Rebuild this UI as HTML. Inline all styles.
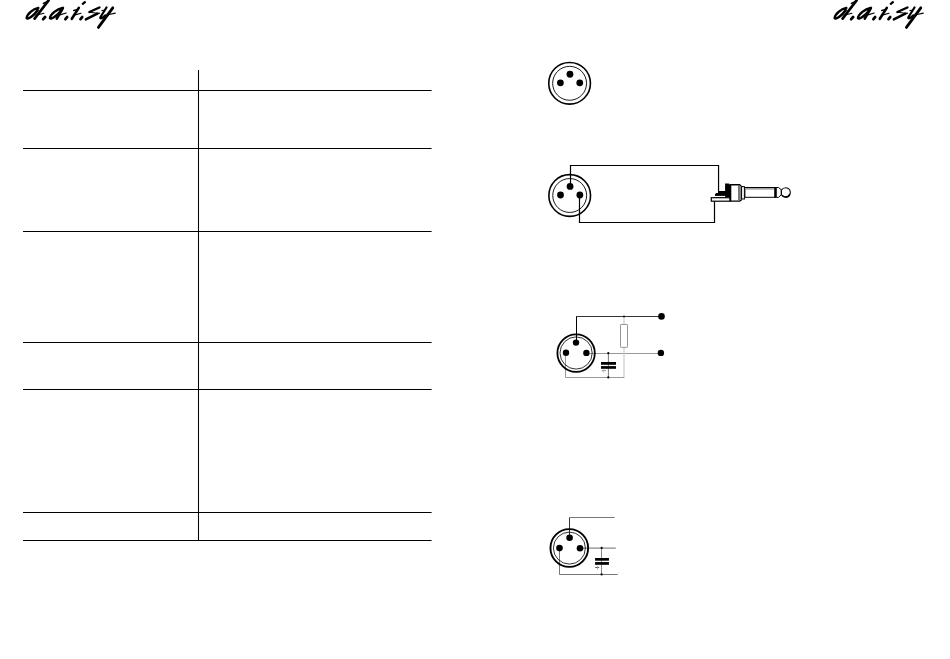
<!DOCTYPE html>
<html><head><meta charset="utf-8">
<style>
html,body{margin:0;padding:0;background:#fff;width:950px;height:659px;overflow:hidden;font-family:"Liberation Sans",sans-serif;}
svg{position:absolute;left:0;top:0;display:block}
</style></head><body>
<svg width="950" height="659" viewBox="0 0 950 659">
<defs>
<g id="logo" fill="none" stroke="#000" stroke-linecap="round" stroke-linejoin="round">
  <!-- d -->
  <path d="M38.3 7.9 C33 9 27 14 26.7 18.1 C28 20 34 15.5 37.8 10" stroke-width="2.5"/>
  <path d="M34.6 18.6 L48.6 0.4" stroke-width="2.6"/>
  <path d="M43.4 3.4 L46.5 2" stroke-width="1.5"/>
  <path d="M36 15.2 L44 13.2" stroke-width="1.1"/>
  <path d="M43.2 19.2 L45.1 17" stroke-width="2.8"/>
  <!-- a -->
  <path d="M62.6 7.9 C57 9 50.5 14 50 18.1 C51.2 20 57.5 15.5 61.6 10" stroke-width="2.5"/>
  <path d="M62.9 8 L56.8 18.6" stroke-width="2.6"/>
  <path d="M58.2 15.4 L66.2 13" stroke-width="1.1"/>
  <path d="M65.4 19.2 L67.1 17.1" stroke-width="2.8"/>
  <!-- i -->
  <path d="M71.8 18.8 L78.8 7.9" stroke-width="2.6"/>
  <path d="M73.8 10.4 L76.8 9.8" stroke-width="1.5"/>
  <path d="M73.4 15.4 L81 13.2" stroke-width="1.1"/>
  <path d="M82.8 3.8 L84.9 2.1" stroke-width="2.3"/>
  <path d="M80.5 19.1 L82.2 17.1" stroke-width="2.8"/>
  <!-- s -->
  <path d="M89.4 12 L99.4 7.5" stroke-width="2.4"/>
  <path d="M89.3 12.2 Q93.5 12.9 98 13.2" stroke-width="1.1"/>
  <path d="M97.4 13.7 L85.8 19.4" stroke-width="2.4"/>
  <path d="M97.4 13.6 L99.6 13.2" stroke-width="1.2"/>
  <!-- y -->
  <path d="M106.5 7.5 L100.5 17 Q99.5 19.2 102.4 17.8 L105.4 15.4" stroke-width="2.2"/>
  <path d="M101.9 10.6 L103.6 10.3" stroke-width="1.1"/>
  <path d="M112.8 7.8 L98.4 27.4" stroke-width="2.8"/>
  <path d="M108 14.7 L115.3 13.1" stroke-width="1.1"/>
</g>
<g id="xlr">
  <circle cx="0" cy="0" r="20.85" fill="none" stroke="#000" stroke-width="1.6"/>
  <circle cx="0" cy="0" r="16.95" fill="none" stroke="#000" stroke-width="0.9"/>
  <circle cx="0.36" cy="-9.03" r="3.4" fill="#000"/>
  <circle cx="-9.2" cy="-0.5" r="3.4" fill="#000"/>
  <circle cx="10.15" cy="-0.5" r="3.4" fill="#000"/>
</g>
</defs>
<use href="#logo"/>
<use href="#logo" x="808"/>
<!-- table -->
<g stroke="#000" stroke-width="1.2" fill="none">
  <path d="M23 90.5H431.6M23 148.5H431.6M23 231.5H431.6M23 342.5H431.6M23 389.5H431.6M23 512.5H431.6M23 540.5H431.6"/>
  <path d="M198.5 70V541" stroke-width="1.05"/>
</g>
<!-- connector 1 -->
<use href="#xlr" x="569.6" y="83.3"/>
<!-- connector 2 with jack -->
<use href="#xlr" x="569.7" y="195.5"/>
<g stroke="#000" stroke-width="1.2" fill="none">
  <path d="M570.5 186 V165.5 H718.55 V191.5"/>
  <path d="M579.5 195 V222.5 H714.5 V201"/>
</g>
<!-- jack -->
<g>
  <path d="M715 196 V194.2 L716.2 193 H718 V191 H725.1 V183.6 H729 L730.4 185.2 V197.2 H715 Z" fill="#000"/>
  <rect x="715" y="195.9" width="10.1" height="1.2" fill="#fff"/>
  <rect x="711.3" y="197.7" width="18.6" height="3.5" fill="#fff" stroke="#000" stroke-width="1.2"/>
  <path d="M730.6 184.7 H739.6 L741 186.1 V200.3 L739.6 201.1 H730.6 Z" fill="#fff" stroke="#000" stroke-width="1.4"/>
  <rect x="738.2" y="185.4" width="1.6" height="15" fill="#555"/>
  <rect x="739.8" y="186" width="1.3" height="14" fill="#888"/>
  <rect x="741.6" y="186.6" width="2.8" height="12.4" fill="#fff" stroke="#000" stroke-width="1"/>
  <rect x="744.9" y="187.5" width="31.5" height="9.8" fill="#fff" stroke="#000" stroke-width="1"/>
  <rect x="745.2" y="188.1" width="28.7" height="1.5" fill="#999"/>
  <rect x="774.2" y="187.2" width="2.6" height="10.4" fill="#000"/>
  <path d="M776.8 187.5 H778.5 L781.3 189.8 V194.6 L778.5 197.4 H776.8" fill="#fff" stroke="#000" stroke-width="1"/>
  <path d="M781.4 190 Q783 187.6 786 187.7 Q790.3 188.2 790.3 192.6 Q789.8 197 786 197.3 Q782.6 197.2 781.4 194.6 Z" fill="#fff" stroke="#000" stroke-width="1.1"/>
  <path d="M782.2 195.4 Q783.8 197 786 197 Q788.8 196.6 789.8 194" fill="none" stroke="#000" stroke-width="1.3"/>
  <path d="M783.5 188.6 Q785 188 786.5 188.2" fill="none" stroke="#aaa" stroke-width="0.8"/>
</g>
<!-- connector 3 -->
<g>
  <path d="M576.5 342 V316.5" stroke="#000" stroke-width="1" fill="none"/>
  <path d="M576 316.5 H661.6" stroke="#333" stroke-width="1" fill="none"/>
  <path d="M586.3 353.5 H661" stroke="#999" stroke-width="1" fill="none"/>
  <path d="M624 316.5 V377.5" stroke="#ccc" stroke-width="1.2" fill="none"/>
  <rect x="620.5" y="324.5" width="7" height="22.9" rx="0.6" fill="#fff" stroke="#888" stroke-width="0.9"/>
  <path d="M565.5 353 V377.5 H624.4" stroke="#999" stroke-width="1" fill="none"/>
  <path d="M608.4 353 V377.5" stroke="#555" stroke-width="0.8" fill="none"/>
  <rect x="601" y="362" width="15" height="2.8" fill="#000"/>
  <rect x="601" y="366.1" width="15" height="2.7" fill="#000"/>
  <path d="M601.9 370.65 H605.8" stroke="#666" stroke-width="0.8"/>
  <path d="M603.6 369.2 V372.6" stroke="#bbb" stroke-width="0.7"/>
  <circle cx="661.5" cy="316.4" r="3.3" fill="#000"/>
  <circle cx="660.9" cy="352.9" r="3.2" fill="#000"/>
  <circle cx="624" cy="316.5" r="0.9" fill="#000"/>
  <circle cx="608.3" cy="353.2" r="1.1" fill="#000"/>
  <circle cx="608.3" cy="377.4" r="1.1" fill="#000"/>
  <circle cx="576.1" cy="353.1" r="18.7" fill="none" stroke="#000" stroke-width="1.8"/>
  <circle cx="576.1" cy="353" r="16.1" fill="none" stroke="#000" stroke-width="0.8"/>
  <circle cx="576" cy="342.6" r="3.2" fill="#000"/>
  <circle cx="566" cy="352.8" r="3.2" fill="#000"/>
  <circle cx="586.4" cy="352.9" r="3.2" fill="#000"/>
</g>
<!-- connector 4 -->
<g>
  <path d="M569.5 537 V517.5" stroke="#333" stroke-width="1" fill="none"/>
  <path d="M569 517.5 H614.6" stroke="#777" stroke-width="1" fill="none"/>
  <path d="M579.8 548.1 H615.8" stroke="#888" stroke-width="1.1" fill="none"/>
  <path d="M559.5 547.7 V574.5 H617.7" stroke="#777" stroke-width="1" fill="none"/>
  <path d="M601.5 548 V574.5" stroke="#777" stroke-width="0.9" fill="none"/>
  <rect x="595.1" y="558" width="13.85" height="2.7" fill="#000"/>
  <rect x="595.1" y="562.05" width="13.85" height="2.75" fill="#000"/>
  <path d="M595.2 567.5 H599.1" stroke="#444" stroke-width="0.9"/>
  <path d="M597.4 565.7 V569.6" stroke="#999" stroke-width="0.8"/>
  <circle cx="601.66" cy="547.9" r="1.1" fill="#000"/>
  <circle cx="601.6" cy="574.4" r="1.1" fill="#000"/>
  <circle cx="569.3" cy="548" r="18.85" fill="none" stroke="#000" stroke-width="1.9"/>
  <circle cx="569.4" cy="548.1" r="16.0" fill="none" stroke="#000" stroke-width="0.8"/>
  <circle cx="569.6" cy="537.8" r="3.3" fill="#000"/>
  <circle cx="559.5" cy="548.1" r="3.3" fill="#000"/>
  <circle cx="580" cy="548.2" r="3.3" fill="#000"/>
</g>
</svg>
</body></html>
